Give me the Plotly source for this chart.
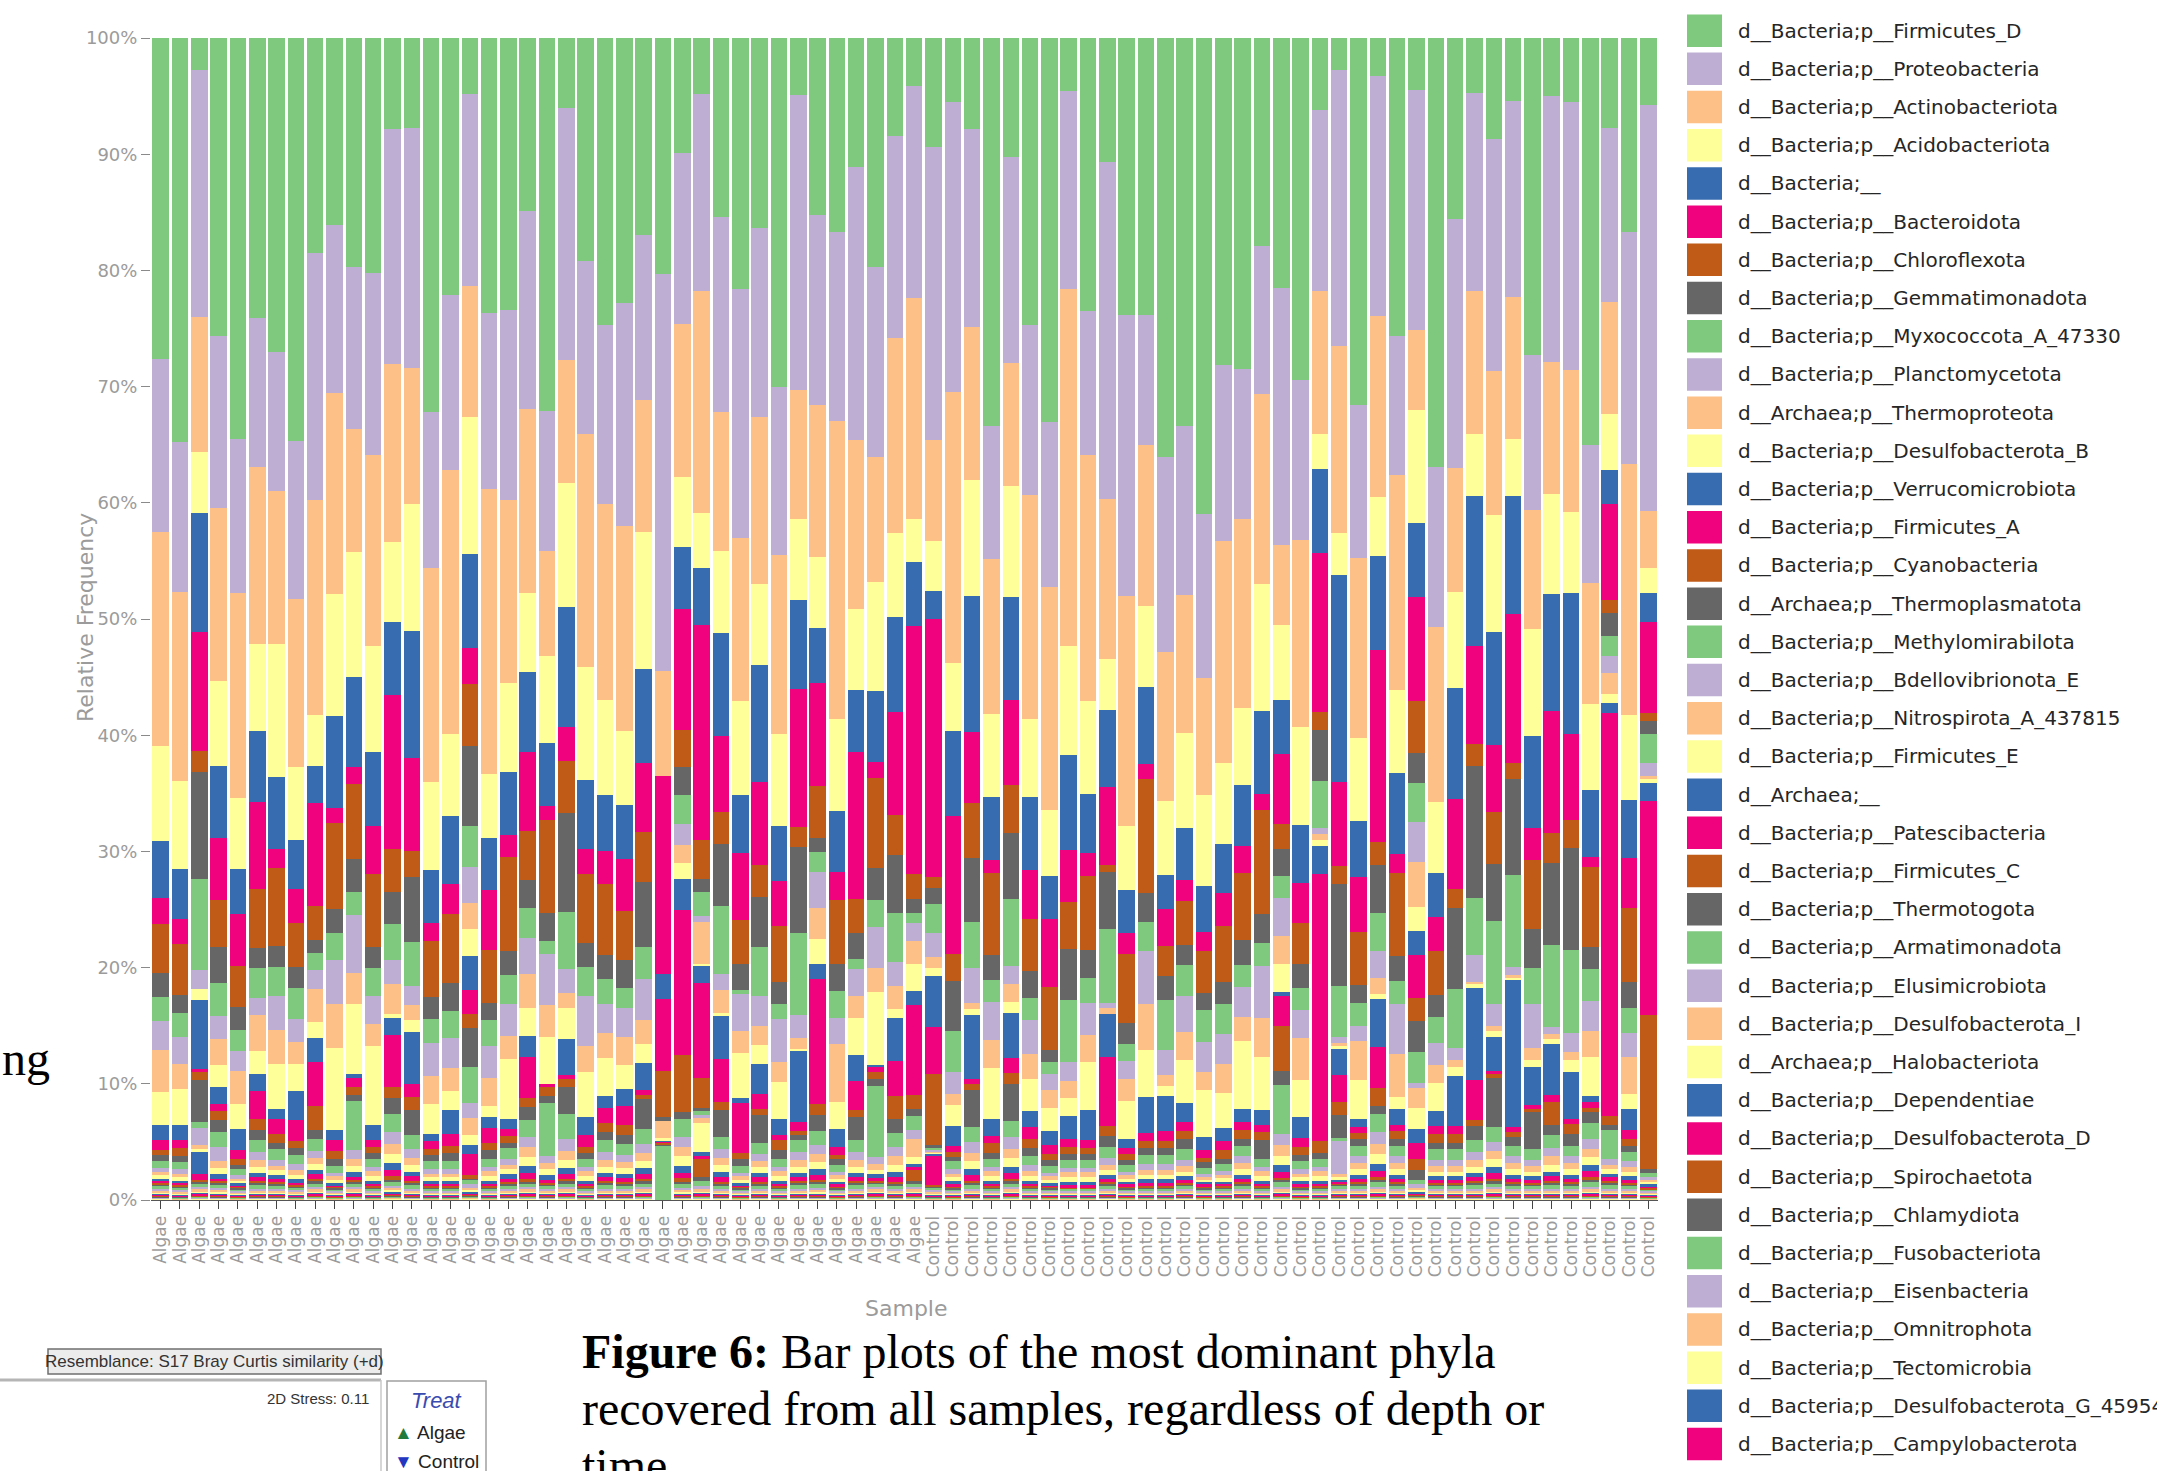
import plotly.graph_objects as go

# ---------------------------------------------------------------- data
treatment = ["Algae"] * 40 + ["Control"] * 38
sample_pos = list(range(len(treatment)))

y_ticks = [0, 10, 20, 30, 40, 50, 60, 70, 80, 90, 100]
y_tick_labels = ["0%", "10%", "20%", "30%", "40%", "50%", "60%", "70%", "80%", "90%", "100%"]

taxa = [
    "d__Bacteria;p__Firmicutes_D",
    "d__Bacteria;p__Proteobacteria",
    "d__Bacteria;p__Actinobacteriota",
    "d__Bacteria;p__Acidobacteriota",
    "d__Bacteria;__",
    "d__Bacteria;p__Bacteroidota",
    "d__Bacteria;p__Chloroflexota",
    "d__Bacteria;p__Gemmatimonadota",
    "d__Bacteria;p__Myxococcota_A_47330",
    "d__Bacteria;p__Planctomycetota",
    "d__Archaea;p__Thermoproteota",
    "d__Bacteria;p__Desulfobacterota_B",
    "d__Bacteria;p__Verrucomicrobiota",
    "d__Bacteria;p__Firmicutes_A",
    "d__Bacteria;p__Cyanobacteria",
    "d__Archaea;p__Thermoplasmatota",
    "d__Bacteria;p__Methylomirabilota",
    "d__Bacteria;p__Bdellovibrionota_E",
    "d__Bacteria;p__Nitrospirota_A_437815",
    "d__Bacteria;p__Firmicutes_E",
    "d__Archaea;__",
    "d__Bacteria;p__Patescibacteria",
    "d__Bacteria;p__Firmicutes_C",
    "d__Bacteria;p__Thermotogota",
    "d__Bacteria;p__Armatimonadota",
    "d__Bacteria;p__Elusimicrobiota",
    "d__Bacteria;p__Desulfobacterota_I",
    "d__Archaea;p__Halobacteriota",
    "d__Bacteria;p__Dependentiae",
    "d__Bacteria;p__Desulfobacterota_D",
    "d__Bacteria;p__Spirochaetota",
    "d__Bacteria;p__Chlamydiota",
    "d__Bacteria;p__Fusobacteriota",
    "d__Bacteria;p__Eisenbacteria",
    "d__Bacteria;p__Omnitrophota",
    "d__Bacteria;p__Tectomicrobia",
    "d__Bacteria;p__Desulfobacterota_G_459543",
    "d__Bacteria;p__Campylobacterota",
]

# relative abundance (%) per sample, one list per phylum
firmicutes_d = [27.7, 34.8, 2.8, 25.7, 34.5, 24.1, 27.0, 34.7, 18.5, 16.1,
                19.7, 20.2, 7.8, 7.7, 32.2, 22.1, 4.8, 23.7, 23.4, 14.9,
                32.1, 6.0, 19.2, 24.7, 22.8, 17.0, 20.3, 9.9, 4.8, 15.4,
                21.6, 16.4, 30.0, 4.9, 15.2, 16.7, 11.1, 19.7, 8.4, 4.1,
                9.4, 5.5, 7.8, 33.4, 10.2, 24.7, 33.0, 4.6, 23.5, 10.7,
                23.8, 23.8, 36.0, 33.4, 41.0, 28.1, 28.5, 17.9, 21.5, 29.4,
                6.2, 2.8, 31.6, 3.3, 25.7, 4.5, 36.9, 15.6, 4.7, 8.7,
                5.4, 27.3, 5.0, 5.5, 35.1, 7.7, 16.7, 5.8]
proteobacteria = [14.9, 12.9, 21.3, 14.8, 13.3, 12.8, 12.0, 13.6, 21.3, 14.4,
                  14.0, 15.7, 20.3, 20.7, 13.4, 15.1, 16.6, 15.1, 16.4, 17.0,
                  12.0, 21.7, 14.9, 15.4, 19.2, 14.2, 34.1, 14.7, 17.0, 16.8,
                  21.4, 16.2, 14.5, 25.4, 16.4, 16.2, 23.5, 16.4, 17.4, 18.3,
                  25.2, 25.0, 17.1, 11.4, 17.8, 14.6, 14.2, 17.0, 12.4, 29.0,
                  24.2, 11.2, 16.8, 14.6, 14.1, 15.2, 12.9, 12.7, 22.2, 13.8,
                  15.6, 23.8, 13.2, 20.6, 11.9, 20.7, 13.8, 21.4, 17.1, 20.0,
                  16.9, 13.3, 22.9, 23.1, 11.9, 15.0, 20.0, 34.9]
actinobacteriota = [18.5, 16.3, 11.6, 14.9, 17.6, 15.2, 13.2, 14.4, 18.5, 17.3,
                    10.6, 16.4, 15.3, 11.7, 18.4, 22.7, 11.3, 24.5, 15.7, 15.9,
                    9.1, 10.6, 20.0, 16.8, 17.6, 11.4, 9.0, 13.2, 19.1, 11.9,
                    14.0, 14.4, 15.4, 11.1, 13.1, 25.7, 14.5, 10.8, 16.8, 19.0,
                    8.7, 23.3, 13.1, 13.4, 10.6, 19.2, 19.2, 30.7, 21.1, 13.8,
                    19.8, 13.8, 12.8, 11.8, 10.1, 19.1, 16.3, 16.4, 6.9, 16.1,
                    12.3, 16.1, 15.5, 15.6, 18.5, 6.9, 15.1, 10.7, 12.3, 12.4,
                    12.2, 10.3, 11.3, 12.2, 10.4, 9.6, 21.6, 4.9]
acidobacteriota = [8.2, 7.6, 5.3, 7.3, 6.1, 7.5, 11.4, 6.3, 4.4, 10.5,
                   10.8, 9.1, 6.9, 10.9, 7.6, 7.0, 11.8, 5.5, 7.7, 6.8,
                   7.4, 10.7, 9.7, 8.2, 6.4, 11.8, 0.0, 6.0, 4.7, 7.1,
                   8.1, 7.0, 7.9, 6.9, 6.1, 7.9, 7.0, 9.4, 7.2, 3.7,
                   4.3, 5.9, 10.0, 7.1, 9.5, 6.7, 5.7, 9.4, 8.0, 4.4,
                   5.5, 7.0, 6.3, 8.2, 7.8, 6.9, 6.6, 10.9, 6.4, 8.4,
                   3.0, 3.6, 7.1, 5.0, 7.2, 9.7, 6.1, 8.3, 5.3, 10.1,
                   4.9, 9.2, 8.6, 7.0, 7.4, 4.9, 7.3, 2.2]
bacteria_unclassified = [4.9, 4.3, 10.2, 6.2, 3.9, 6.1, 6.2, 4.2, 3.2, 7.9,
                         7.7, 6.4, 6.3, 10.9, 4.5, 5.9, 8.1, 4.5, 5.4, 6.9,
                         5.5, 10.3, 6.0, 4.8, 4.6, 8.1, 0.0, 5.3, 4.9, 8.8,
                         5.0, 10.1, 4.7, 7.7, 4.7, 5.2, 5.3, 6.1, 8.2, 5.5,
                         2.4, 7.3, 11.7, 5.4, 8.9, 6.3, 3.7, 8.2, 5.1, 6.6,
                         3.7, 6.6, 3.0, 4.5, 4.0, 4.3, 5.3, 7.1, 4.7, 5.0,
                         7.2, 17.9, 4.8, 8.1, 7.0, 6.4, 3.8, 9.5, 12.9, 9.7,
                         10.2, 7.9, 10.1, 12.1, 5.8, 2.9, 5.0, 2.5]
bacteroidota = [2.2, 2.1, 10.3, 5.3, 4.5, 7.5, 1.7, 2.9, 8.9, 1.3,
                1.5, 4.1, 13.3, 8.0, 1.6, 2.6, 3.1, 5.2, 1.9, 6.8,
                1.2, 2.9, 2.1, 2.9, 4.5, 5.9, 17.0, 10.4, 18.5, 6.6,
                5.8, 7.1, 3.9, 11.9, 8.9, 2.4, 12.7, 1.4, 8.8, 21.4,
                22.2, 11.9, 6.1, 1.1, 7.3, 4.2, 5.8, 4.4, 2.0, 6.7,
                1.8, 1.3, 3.1, 1.8, 1.6, 2.8, 2.3, 1.4, 6.0, 3.4,
                13.7, 7.2, 4.8, 16.5, 1.6, 8.9, 2.9, 7.8, 8.4, 5.8,
                12.8, 2.8, 10.5, 7.4, 0.8, 8.2, 4.3, 7.8]
chloroflexota = [4.3, 4.4, 1.8, 4.1, 3.5, 5.1, 6.7, 3.8, 2.9, 7.4,
                 6.4, 6.3, 3.7, 2.3, 4.8, 5.9, 5.4, 4.5, 8.1, 4.2,
                 8.0, 4.5, 6.0, 6.1, 4.2, 4.3, 0.0, 3.2, 3.4, 2.7,
                 3.7, 2.8, 4.8, 1.7, 4.5, 5.5, 2.9, 7.7, 3.5, 2.1,
                 0.9, 2.3, 4.7, 7.1, 4.1, 4.5, 5.4, 4.1, 6.4, 0.6,
                 5.9, 9.8, 2.6, 3.8, 3.6, 4.8, 5.8, 9.0, 2.2, 3.5,
                 1.5, 1.6, 4.5, 2.0, 7.1, 4.5, 3.8, 1.6, 1.9, 4.5,
                 1.4, 5.9, 2.6, 2.4, 6.9, 1.2, 6.4, 0.7]
gemmatimonadota = [2.0, 1.6, 9.2, 3.1, 2.0, 1.7, 1.8, 1.8, 1.1, 2.1,
                   2.9, 1.8, 2.8, 5.6, 1.9, 2.4, 6.9, 1.5, 2.1, 2.4,
                   2.4, 8.5, 2.0, 2.0, 2.4, 5.6, 0.0, 2.4, 1.1, 5.4,
                   2.3, 4.3, 1.9, 7.4, 1.2, 2.4, 2.2, 2.8, 5.0, 1.2,
                   1.4, 4.3, 5.5, 2.1, 5.7, 2.3, 1.1, 4.4, 2.4, 4.9,
                   1.8, 2.5, 2.1, 1.7, 1.5, 1.9, 2.1, 2.5, 2.3, 2.1,
                   4.4, 8.8, 1.6, 4.1, 2.2, 2.6, 1.9, 7.0, 11.4, 4.9,
                   8.3, 3.4, 7.0, 8.8, 1.9, 1.9, 2.2, 1.1]
myxococcota = [2.1, 2.0, 7.9, 2.8, 1.8, 2.6, 2.5, 2.7, 1.5, 2.3,
               2.0, 2.4, 3.1, 3.7, 2.1, 2.3, 3.5, 2.2, 2.5, 2.6,
               1.1, 4.9, 2.5, 2.2, 1.7, 2.8, 0.0, 2.5, 2.1, 5.8,
               0.3, 4.2, 1.3, 7.0, 1.7, 2.3, 0.9, 2.3, 4.2, 0.9,
               2.5, 3.5, 4.0, 1.9, 5.8, 1.9, 1.0, 5.3, 2.1, 6.4,
               1.5, 2.5, 4.3, 2.7, 2.7, 2.6, 1.9, 1.9, 1.9, 1.9,
               4.1, 4.4, 2.0, 3.3, 2.0, 3.4, 2.2, 5.1, 4.9, 7.1,
               7.9, 3.1, 7.1, 7.2, 2.8, 1.8, 2.2, 2.5]
planctomycetota = [2.5, 2.4, 1.6, 2.0, 1.7, 1.4, 2.9, 2.0, 1.6, 3.8,
                   5.0, 2.4, 2.0, 1.7, 2.8, 2.6, 3.1, 2.8, 2.7, 3.1,
                   4.4, 2.1, 4.3, 2.5, 2.5, 3.5, 0.0, 1.8, 0.5, 1.4,
                   3.2, 2.6, 3.7, 2.0, 3.1, 2.2, 2.3, 3.5, 2.0, 1.5,
                   2.1, 1.9, 3.0, 3.3, 1.5, 2.9, 1.4, 1.6, 2.8, 0.4,
                   1.5, 4.5, 2.1, 3.1, 2.6, 2.6, 2.6, 4.5, 3.3, 2.4,
                   0.5, 0.5, 1.3, 2.3, 4.3, 3.4, 1.9, 1.0, 2.3, 1.9,
                   0.7, 3.8, 0.6, 1.6, 2.6, 1.4, 2.0, 1.1]
thermoproteota = [3.6, 2.1, 0.0, 2.2, 2.9, 3.1, 2.9, 1.9, 2.9, 3.8,
                  2.6, 1.9, 2.6, 1.3, 2.4, 2.0, 2.3, 2.4, 2.0, 2.9,
                  2.7, 1.3, 2.3, 2.1, 2.4, 2.1, 0.0, 1.6, 3.6, 2.0,
                  1.9, 1.6, 1.7, 1.0, 2.7, 5.0, 1.9, 2.1, 2.0, 2.0,
                  0.9, 1.0, 0.5, 2.4, 1.6, 2.2, 1.5, 1.5, 2.3, 0.5,
                  1.9, 4.0, 1.0, 2.4, 1.6, 2.5, 2.1, 3.4, 2.4, 3.6,
                  0.5, 0.3, 3.3, 1.4, 3.7, 3.9, 1.6, 0.6, 0.2, 0.5,
                  0.2, 1.0, 0.4, 0.7, 2.2, 1.8, 3.2, 0.3]
desulfobacterota_b = [2.9, 3.1, 1.0, 1.9, 2.1, 2.0, 3.9, 2.3, 1.4, 7.0,
                      6.1, 6.8, 0.4, 1.0, 2.6, 1.6, 2.3, 0.9, 5.2, 2.4,
                      4.1, 2.7, 3.8, 3.3, 2.1, 1.6, 0.0, 1.3, 0.2, 0.2,
                      3.9, 1.6, 3.2, 0.1, 2.1, 2.3, 3.2, 6.3, 0.8, 2.3,
                      0.7, 1.8, 0.5, 4.4, 0.9, 2.7, 2.0, 1.5, 4.1, 0.0,
                      3.3, 4.0, 0.8, 3.7, 4.0, 3.0, 5.8, 4.5, 2.4, 3.2,
                      0.5, 0.2, 3.4, 0.4, 1.0, 2.1, 2.4, 0.8, 0.3, 0.5,
                      0.2, 0.6, 0.4, 1.0, 3.4, 0.8, 1.3, 0.3]
verrucomicrobiota = [1.3, 1.3, 5.9, 1.5, 1.8, 1.5, 0.9, 2.5, 2.0, 0.9,
                     0.3, 1.3, 1.4, 4.5, 0.6, 2.1, 2.9, 1.0, 0.8, 1.8,
                     0.0, 3.1, 1.6, 1.0, 1.5, 2.3, 2.1, 2.7, 1.4, 3.7,
                     0.4, 2.6, 1.4, 6.1, 1.3, 1.6, 2.2, 0.2, 3.7, 1.2,
                     4.4, 1.7, 5.5, 1.5, 3.9, 1.4, 1.2, 2.0, 2.6, 3.7,
                     0.8, 3.1, 3.0, 1.6, 1.1, 1.1, 1.1, 1.3, 0.3, 1.8,
                     2.4, 2.3, 0.7, 4.2, 1.4, 2.0, 1.3, 4.3, 7.9, 2.9,
                     12.7, 3.3, 4.4, 4.1, 0.5, 0.9, 1.8, 1.6]
firmicutes_a = [0.8, 0.7, 0.3, 0.6, 0.8, 2.4, 1.3, 1.8, 3.8, 0.9,
                0.8, 0.6, 4.5, 1.1, 0.7, 1.0, 2.1, 1.3, 0.6, 3.5,
                0.2, 0.3, 1.0, 1.3, 1.6, 0.5, 6.2, 12.5, 8.2, 3.7,
                4.3, 1.3, 0.4, 0.8, 10.8, 0.7, 2.5, 0.4, 3.0, 7.8,
                4.0, 0.5, 0.5, 0.6, 1.3, 1.0, 0.8, 0.7, 0.7, 6.0,
                0.5, 0.7, 0.9, 0.8, 0.7, 0.8, 0.7, 0.6, 2.6, 0.8,
                23.0, 2.3, 0.5, 3.5, 0.5, 3.7, 0.7, 0.7, 3.5, 0.3,
                0.4, 0.3, 0.6, 0.4, 0.5, 34.6, 0.8, 18.4]
cyanobacteria = [0.5, 0.7, 0.7, 0.8, 0.5, 0.9, 0.7, 0.6, 2.1, 0.7,
                 0.7, 0.5, 1.0, 1.1, 0.5, 0.6, 1.2, 0.6, 0.6, 0.8,
                 0.8, 0.7, 0.5, 0.8, 0.9, 0.3, 4.0, 4.9, 2.6, 0.7,
                 0.5, 0.5, 0.9, 0.4, 0.9, 0.3, 0.6, 0.6, 2.0, 1.2,
                 6.1, 0.4, 0.5, 0.8, 0.9, 0.8, 0.5, 0.6, 0.5, 0.8,
                 0.5, 0.6, 0.6, 0.7, 0.4, 0.7, 0.8, 0.7, 3.9, 0.7,
                 1.0, 1.1, 0.5, 1.5, 0.7, 2.0, 0.7, 0.7, 0.5, 0.3,
                 0.4, 0.3, 2.0, 0.9, 0.3, 0.8, 0.6, 13.3]
thermoplasmatota = [0.5, 0.5, 3.6, 1.0, 0.4, 0.9, 0.6, 0.6, 0.8, 0.6,
                    0.5, 0.5, 1.3, 2.2, 0.5, 0.7, 3.4, 0.7, 0.5, 1.1,
                    0.6, 2.3, 0.5, 0.7, 0.7, 2.6, 0.3, 0.6, 0.3, 2.3,
                    0.6, 2.4, 0.7, 0.4, 1.4, 0.5, 2.0, 0.6, 1.2, 0.6,
                    0.3, 0.4, 3.2, 0.5, 3.2, 0.7, 0.5, 0.5, 0.5, 1.0,
                    0.4, 0.6, 0.6, 0.9, 0.5, 0.5, 0.6, 1.6, 1.2, 0.5,
                    0.5, 2.0, 0.6, 0.7, 0.6, 2.7, 0.6, 0.6, 1.2, 4.2,
                    0.8, 3.2, 0.9, 1.0, 1.0, 0.4, 0.5, 0.3]
methylomirabilota = [0.6, 0.6, 0.5, 1.3, 0.5, 1.0, 0.9, 0.8, 1.0, 0.6,
                     4.2, 0.7, 1.6, 1.2, 0.7, 0.7, 3.1, 0.7, 0.9, 1.5,
                     4.6, 2.2, 0.7, 1.0, 1.0, 1.3, 0.0, 1.5, 0.3, 1.1,
                     0.6, 1.0, 0.7, 1.0, 1.2, 0.6, 1.0, 6.1, 1.2, 1.2,
                     0.2, 0.7, 1.3, 0.7, 1.4, 0.8, 0.6, 0.7, 0.7, 0.9,
                     0.6, 0.8, 0.8, 0.9, 0.5, 0.6, 0.9, 0.7, 4.2, 0.7,
                     0.7, 0.3, 0.9, 1.6, 0.9, 2.7, 0.9, 0.9, 1.0, 1.3,
                     0.9, 0.9, 1.1, 0.9, 1.4, 2.5, 0.8, 0.4]
bdellovibrionota_e = [0.3, 0.4, 1.5, 1.2, 0.3, 0.7, 0.5, 0.5, 0.6, 0.3,
                      0.8, 0.4, 1.0, 0.7, 0.4, 0.4, 1.3, 0.4, 0.5, 0.9,
                      0.6, 1.0, 0.4, 0.7, 0.6, 0.8, 0.0, 0.9, 0.3, 0.7,
                      0.3, 0.6, 0.4, 0.7, 0.8, 0.3, 0.7, 0.6, 0.8, 0.8,
                      0.1, 0.4, 0.9, 0.4, 1.0, 0.5, 0.3, 0.4, 0.4, 0.6,
                      0.3, 0.5, 0.5, 0.5, 0.3, 0.3, 0.6, 0.4, 1.0, 0.4,
                      0.4, 2.8, 0.6, 1.0, 0.6, 0.4, 0.5, 0.5, 0.7, 0.8,
                      0.6, 0.5, 0.7, 0.6, 0.8, 0.5, 0.5, 0.2]
nitrospirota_a = [0.3, 0.3, 0.3, 0.6, 0.2, 0.6, 0.4, 0.4, 0.5, 0.3,
                  0.6, 0.4, 0.9, 0.6, 0.3, 0.3, 1.4, 0.4, 0.4, 0.8,
                  0.5, 0.8, 0.4, 0.6, 0.5, 0.7, 1.5, 0.8, 0.4, 0.6,
                  0.3, 0.5, 0.4, 0.6, 0.7, 0.3, 0.6, 0.5, 0.7, 1.5,
                  0.1, 0.3, 0.7, 0.4, 0.8, 0.4, 0.3, 0.4, 0.4, 0.5,
                  0.3, 0.4, 0.4, 0.5, 0.2, 0.3, 0.5, 0.4, 0.9, 0.3,
                  0.4, 0.3, 0.5, 0.9, 0.5, 1.7, 0.5, 0.5, 0.6, 0.7,
                  0.5, 0.5, 0.7, 0.5, 0.7, 0.4, 0.4, 0.2]
firmicutes_e = [0.3, 0.3, 0.3, 0.5, 0.2, 0.5, 0.4, 0.4, 0.5, 0.3,
                0.5, 0.4, 0.8, 0.6, 0.3, 0.3, 0.9, 0.4, 0.4, 0.8,
                0.5, 0.7, 0.4, 0.5, 0.5, 0.6, 0.2, 0.8, 2.5, 0.6,
                0.3, 0.5, 0.4, 0.5, 0.6, 0.3, 0.5, 0.4, 0.6, 0.6,
                0.1, 0.3, 0.7, 0.4, 0.8, 0.4, 0.3, 0.4, 0.4, 0.4,
                0.3, 0.4, 0.4, 0.4, 0.2, 0.3, 0.5, 0.4, 0.8, 0.3,
                0.4, 0.2, 0.5, 0.8, 0.5, 1.8, 0.4, 0.4, 0.5, 0.7,
                0.5, 0.4, 0.6, 0.5, 0.7, 0.4, 0.4, 0.2]
archaea_unclassified = [0.2, 0.2, 1.9, 0.4, 0.2, 0.4, 0.3, 0.3, 0.4, 0.2,
                        0.4, 0.3, 0.6, 0.4, 0.3, 0.3, 0.8, 0.3, 0.4, 0.6,
                        0.4, 0.5, 0.3, 0.4, 0.4, 0.5, 0.1, 0.6, 0.3, 0.5,
                        0.2, 0.4, 0.3, 0.4, 0.5, 0.2, 0.4, 0.3, 0.5, 0.3,
                        0.1, 0.3, 0.5, 0.3, 0.5, 0.3, 0.2, 0.3, 0.3, 0.3,
                        0.2, 0.3, 0.3, 0.3, 0.2, 0.2, 0.3, 0.3, 0.6, 0.3,
                        0.3, 0.2, 0.3, 0.6, 0.3, 1.2, 0.3, 0.3, 0.4, 0.5,
                        0.3, 0.3, 0.4, 0.3, 0.5, 0.3, 0.3, 0.2]
patescibacteria = [0.2, 0.2, 0.5, 0.2, 0.1, 0.3, 0.3, 0.2, 0.4, 0.1,
                   0.3, 0.2, 0.5, 0.4, 0.2, 0.2, 1.8, 0.2, 0.3, 0.5,
                   0.3, 0.4, 0.2, 0.3, 0.3, 0.4, 0.1, 0.5, 0.3, 0.4,
                   0.1, 0.4, 0.2, 0.3, 0.4, 0.2, 0.3, 0.3, 0.4, 0.2,
                   2.6, 0.2, 0.5, 0.2, 0.5, 0.2, 0.1, 0.2, 0.2, 0.3,
                   0.2, 0.3, 0.3, 0.3, 0.2, 0.2, 0.3, 0.2, 0.5, 0.2,
                   0.2, 0.1, 0.3, 0.5, 0.3, 1.4, 0.3, 0.3, 0.3, 0.5,
                   0.3, 0.3, 0.4, 0.3, 0.5, 0.3, 0.3, 0.1]
firmicutes_c = [0.1, 0.1, 0.2, 0.2, 0.1, 0.2, 0.2, 0.1, 0.2, 0.1,
                0.2, 0.1, 0.3, 0.2, 0.1, 0.1, 0.3, 0.1, 0.2, 0.3,
                0.1, 0.2, 0.1, 0.2, 0.2, 0.2, 0.1, 0.3, 1.5, 0.2,
                0.1, 0.2, 0.1, 0.2, 0.2, 0.1, 0.2, 0.1, 0.2, 1.0,
                0.1, 0.1, 0.2, 0.1, 0.2, 0.1, 0.1, 0.1, 0.1, 0.2,
                0.1, 0.1, 0.1, 0.1, 0.1, 0.1, 0.2, 0.1, 0.2, 0.1,
                0.1, 0.1, 0.2, 0.3, 0.2, 1.0, 0.1, 0.1, 0.2, 0.2,
                0.2, 0.1, 0.2, 0.2, 0.3, 0.2, 0.1, 0.1]
thermotogota = [0.1, 0.1, 0.1, 0.1, 0.1, 0.2, 0.1, 0.1, 0.2, 0.1,
                0.1, 0.1, 0.2, 0.2, 0.1, 0.1, 0.1, 0.1, 0.1, 0.1,
                0.1, 0.2, 0.1, 0.2, 0.1, 0.2, 0.1, 0.2, 0.4, 0.1,
                0.1, 0.1, 0.1, 0.2, 0.2, 0.1, 0.2, 0.1, 0.1, 0.2,
                0.1, 0.1, 0.2, 0.1, 0.2, 0.1, 0.1, 0.0, 0.0, 0.1,
                0.1, 0.1, 0.1, 0.1, 0.1, 0.1, 0.1, 0.1, 0.2, 0.1,
                0.1, 0.1, 0.1, 0.2, 0.1, 0.8, 0.1, 0.1, 0.2, 0.2,
                0.1, 0.1, 0.2, 0.1, 0.2, 0.2, 0.1, 0.0]
armatimonadota = [0.3, 0.2, 0.3, 0.3, 0.2, 0.3, 0.3, 0.2, 0.3, 0.2,
                  0.3, 0.2, 0.3, 0.3, 0.2, 0.2, 0.4, 0.2, 0.3, 0.3,
                  0.3, 0.3, 0.2, 0.3, 0.3, 0.3, 4.7, 0.3, 0.4, 0.3,
                  0.2, 0.3, 0.2, 0.3, 0.3, 0.2, 0.3, 0.3, 0.3, 0.3,
                  0.2, 0.2, 0.3, 0.2, 0.3, 0.2, 0.2, 0.2, 0.2, 0.3,
                  0.2, 0.2, 0.2, 0.3, 0.2, 0.2, 0.3, 0.2, 0.4, 0.2,
                  0.2, 0.3, 0.3, 0.4, 0.3, 0.4, 0.3, 0.3, 0.3, 0.3,
                  0.3, 0.3, 0.3, 0.3, 0.4, 0.3, 0.3, 0.2]
elusimicrobiota = [0.2, 0.2, 0.2, 0.2, 0.1, 0.2, 0.2, 0.2, 0.2, 0.1,
                   0.2, 0.1, 0.2, 0.2, 0.1, 0.1, 0.3, 0.1, 0.2, 0.2,
                   0.2, 0.2, 0.1, 0.2, 0.2, 0.2, 0.0, 0.2, 0.3, 0.2,
                   0.1, 0.2, 0.1, 0.2, 0.2, 0.1, 0.2, 0.2, 0.2, 0.2,
                   0.2, 0.1, 0.2, 0.1, 0.2, 0.1, 0.1, 0.1, 0.1, 0.2,
                   0.1, 0.1, 0.1, 0.2, 0.1, 0.1, 0.2, 0.1, 0.2, 0.1,
                   0.1, 0.2, 0.2, 0.2, 0.2, 0.3, 0.2, 0.2, 0.2, 0.2,
                   0.2, 0.2, 0.2, 0.2, 0.2, 0.2, 0.2, 0.1]
desulfobacterota_i = [0.1, 0.1, 0.2, 0.2, 0.1, 0.1, 0.1, 0.1, 0.2, 0.1,
                      0.2, 0.1, 0.2, 0.1, 0.1, 0.1, 0.2, 0.1, 0.1, 0.2,
                      0.1, 0.2, 0.1, 0.1, 0.1, 0.2, 0.0, 0.2, 0.2, 0.1,
                      0.1, 0.1, 0.1, 0.1, 0.2, 0.1, 0.1, 0.2, 0.1, 0.2,
                      0.1, 0.1, 0.1, 0.1, 0.2, 0.1, 0.1, 0.1, 0.1, 0.1,
                      0.1, 0.1, 0.1, 0.1, 0.1, 0.1, 0.1, 0.1, 0.2, 0.1,
                      0.1, 0.1, 0.1, 0.2, 0.1, 0.2, 0.1, 0.1, 0.1, 0.2,
                      0.1, 0.1, 0.1, 0.1, 0.2, 0.1, 0.1, 0.1]
halobacteriota = [0.1, 0.1, 0.1, 0.1, 0.1, 0.1, 0.1, 0.1, 0.1, 0.1,
                  0.1, 0.1, 0.2, 0.1, 0.1, 0.1, 0.2, 0.1, 0.1, 0.1,
                  0.1, 0.1, 0.1, 0.1, 0.1, 0.1, 0.0, 0.1, 0.1, 0.1,
                  0.1, 0.1, 0.1, 0.1, 0.1, 0.1, 0.1, 0.1, 0.1, 0.1,
                  0.1, 0.1, 0.1, 0.1, 0.1, 0.1, 0.1, 0.1, 0.1, 0.1,
                  0.1, 0.1, 0.1, 0.1, 0.1, 0.1, 0.1, 0.1, 0.1, 0.1,
                  0.1, 0.1, 0.1, 0.1, 0.1, 0.2, 0.1, 0.1, 0.1, 0.1,
                  0.1, 0.1, 0.1, 0.1, 0.1, 0.1, 0.1, 0.1]
dependentiae = [0.1, 0.08, 0.1, 0.1, 0.08, 0.1, 0.1, 0.08, 0.1, 0.08,
                0.1, 0.08, 0.1, 0.1, 0.08, 0.08, 0.1, 0.08, 0.1, 0.1,
                0.1, 0.1, 0.08, 0.1, 0.1, 0.1, 0.0, 0.1, 0.1, 0.1,
                0.08, 0.1, 0.08, 0.1, 0.1, 0.08, 0.1, 0.1, 0.1, 0.1,
                0.08, 0.08, 0.1, 0.08, 0.1, 0.08, 0.08, 0.08, 0.08, 0.1,
                0.08, 0.08, 0.08, 0.1, 0.08, 0.08, 0.1, 0.08, 0.1, 0.08,
                0.08, 0.1, 0.1, 0.1, 0.1, 0.1, 0.1, 0.1, 0.1, 0.1,
                0.1, 0.1, 0.1, 0.1, 0.1, 0.1, 0.1, 0.08]
desulfobacterota_d = [0.08, 0.07, 0.1, 0.08, 0.07, 0.08, 0.08, 0.07, 0.1, 0.07,
                      0.1, 0.07, 0.1, 0.08, 0.07, 0.07, 0.1, 0.07, 0.08, 0.1,
                      0.08, 0.1, 0.07, 0.08, 0.08, 0.1, 0.0, 0.08, 0.1, 0.08,
                      0.07, 0.08, 0.07, 0.08, 0.08, 0.07, 0.08, 0.1, 0.08, 0.1,
                      0.07, 0.07, 0.08, 0.07, 0.1, 0.07, 0.07, 0.07, 0.07, 0.08,
                      0.07, 0.07, 0.07, 0.08, 0.07, 0.07, 0.08, 0.07, 0.1, 0.07,
                      0.07, 0.08, 0.08, 0.1, 0.08, 0.1, 0.08, 0.08, 0.08, 0.1,
                      0.08, 0.08, 0.08, 0.08, 0.1, 0.08, 0.08, 0.07]
spirochaetota = [0.07, 0.06, 0.08, 0.07, 0.06, 0.07, 0.07, 0.06, 0.08, 0.06,
                 0.08, 0.06, 0.08, 0.07, 0.06, 0.06, 0.08, 0.06, 0.07, 0.08,
                 0.07, 0.08, 0.06, 0.07, 0.07, 0.08, 0.0, 0.07, 0.08, 0.07,
                 0.06, 0.07, 0.06, 0.07, 0.07, 0.06, 0.07, 0.08, 0.07, 0.08,
                 0.06, 0.06, 0.07, 0.06, 0.08, 0.06, 0.06, 0.06, 0.06, 0.07,
                 0.06, 0.06, 0.06, 0.07, 0.06, 0.06, 0.07, 0.06, 0.08, 0.06,
                 0.06, 0.07, 0.07, 0.08, 0.07, 0.08, 0.07, 0.07, 0.07, 0.08,
                 0.07, 0.07, 0.07, 0.07, 0.08, 0.07, 0.07, 0.06]
chlamydiota = [0.06, 0.05, 0.07, 0.06, 0.05, 0.06, 0.06, 0.05, 0.07, 0.05,
               0.07, 0.05, 0.07, 0.06, 0.05, 0.05, 0.07, 0.05, 0.06, 0.07,
               0.06, 0.07, 0.05, 0.06, 0.06, 0.07, 0.0, 0.06, 0.07, 0.06,
               0.05, 0.06, 0.05, 0.06, 0.06, 0.05, 0.06, 0.07, 0.06, 0.07,
               0.05, 0.05, 0.06, 0.05, 0.07, 0.05, 0.05, 0.05, 0.05, 0.06,
               0.05, 0.05, 0.05, 0.06, 0.05, 0.05, 0.06, 0.05, 0.07, 0.05,
               0.05, 0.06, 0.06, 0.07, 0.06, 0.07, 0.06, 0.06, 0.06, 0.07,
               0.06, 0.06, 0.06, 0.06, 0.07, 0.06, 0.06, 0.05]
fusobacteriota = [0.05, 0.05, 0.06, 0.05, 0.04, 0.05, 0.05, 0.05, 0.06, 0.04,
                  0.06, 0.05, 0.06, 0.05, 0.05, 0.05, 0.06, 0.05, 0.05, 0.06,
                  0.05, 0.06, 0.05, 0.05, 0.05, 0.06, 0.0, 0.05, 0.06, 0.05,
                  0.04, 0.05, 0.05, 0.05, 0.05, 0.04, 0.05, 0.06, 0.05, 0.06,
                  0.05, 0.04, 0.05, 0.05, 0.06, 0.05, 0.04, 0.05, 0.05, 0.05,
                  0.04, 0.05, 0.05, 0.05, 0.04, 0.05, 0.05, 0.05, 0.06, 0.04,
                  0.05, 0.05, 0.05, 0.06, 0.05, 0.06, 0.05, 0.05, 0.05, 0.06,
                  0.05, 0.05, 0.05, 0.05, 0.06, 0.05, 0.05, 0.04]
eisenbacteria = [0.05, 0.04, 0.05, 0.05, 0.04, 0.05, 0.05, 0.04, 0.05, 0.04,
                 0.05, 0.04, 0.06, 0.05, 0.04, 0.04, 0.06, 0.04, 0.05, 0.05,
                 0.05, 0.05, 0.04, 0.05, 0.05, 0.05, 0.0, 0.05, 0.05, 0.05,
                 0.04, 0.05, 0.04, 0.05, 0.05, 0.04, 0.05, 0.05, 0.05, 0.05,
                 0.04, 0.04, 0.05, 0.04, 0.05, 0.04, 0.04, 0.04, 0.04, 0.05,
                 0.04, 0.04, 0.04, 0.05, 0.04, 0.04, 0.05, 0.04, 0.05, 0.04,
                 0.04, 0.05, 0.05, 0.05, 0.05, 0.06, 0.05, 0.05, 0.05, 0.05,
                 0.05, 0.05, 0.05, 0.05, 0.05, 0.05, 0.05, 0.04]
omnitrophota = [0.04, 0.04, 0.05, 0.04, 0.03, 0.04, 0.04, 0.04, 0.05, 0.03,
                0.05, 0.04, 0.05, 0.04, 0.04, 0.04, 0.05, 0.04, 0.04, 0.05,
                0.04, 0.05, 0.04, 0.04, 0.04, 0.05, 0.0, 0.04, 0.05, 0.04,
                0.03, 0.04, 0.04, 0.04, 0.04, 0.03, 0.04, 0.05, 0.04, 0.05,
                0.04, 0.03, 0.04, 0.04, 0.05, 0.04, 0.03, 0.04, 0.04, 0.04,
                0.03, 0.04, 0.04, 0.04, 0.03, 0.04, 0.04, 0.04, 0.05, 0.03,
                0.04, 0.04, 0.04, 0.05, 0.04, 0.05, 0.04, 0.04, 0.04, 0.05,
                0.04, 0.04, 0.04, 0.04, 0.05, 0.04, 0.04, 0.03]
tectomicrobia = [0.04, 0.03, 0.04, 0.04, 0.03, 0.04, 0.04, 0.03, 0.04, 0.03,
                 0.04, 0.03, 0.05, 0.04, 0.03, 0.03, 0.05, 0.03, 0.04, 0.04,
                 0.04, 0.04, 0.03, 0.04, 0.04, 0.04, 0.0, 0.04, 0.04, 0.04,
                 0.03, 0.04, 0.03, 0.04, 0.04, 0.03, 0.04, 0.04, 0.04, 0.04,
                 0.03, 0.03, 0.04, 0.03, 0.04, 0.03, 0.03, 0.03, 0.03, 0.04,
                 0.03, 0.03, 0.03, 0.04, 0.03, 0.03, 0.04, 0.03, 0.04, 0.03,
                 0.03, 0.04, 0.04, 0.04, 0.04, 0.05, 0.04, 0.04, 0.04, 0.04,
                 0.04, 0.04, 0.04, 0.04, 0.04, 0.04, 0.04, 0.03]
desulfobacterota_g = [0.03, 0.03, 0.04, 0.03, 0.02, 0.03, 0.03, 0.03, 0.04, 0.02,
                      0.04, 0.03, 0.04, 0.03, 0.03, 0.03, 0.04, 0.03, 0.03, 0.04,
                      0.03, 0.04, 0.03, 0.03, 0.03, 0.04, 0.0, 0.03, 0.04, 0.03,
                      0.02, 0.03, 0.03, 0.03, 0.03, 0.02, 0.03, 0.04, 0.03, 0.04,
                      0.03, 0.02, 0.03, 0.03, 0.04, 0.03, 0.02, 0.03, 0.03, 0.03,
                      0.02, 0.03, 0.03, 0.03, 0.02, 0.03, 0.03, 0.03, 0.04, 0.02,
                      0.03, 0.03, 0.03, 0.04, 0.03, 0.04, 0.03, 0.03, 0.03, 0.04,
                      0.03, 0.03, 0.03, 0.03, 0.04, 0.03, 0.03, 0.02]
campylobacterota = [0.03, 0.02, 0.03, 0.03, 0.02, 0.03, 0.03, 0.02, 0.03, 0.02,
                    0.03, 0.02, 0.04, 0.03, 0.02, 0.02, 0.04, 0.02, 0.03, 0.03,
                    0.03, 0.03, 0.02, 0.03, 0.03, 0.03, 0.0, 0.03, 0.03, 0.03,
                    0.02, 0.03, 0.02, 0.03, 0.03, 0.02, 0.03, 0.03, 0.03, 0.03,
                    0.02, 0.02, 0.03, 0.02, 0.03, 0.02, 0.02, 0.02, 0.02, 0.03,
                    0.02, 0.02, 0.02, 0.03, 0.02, 0.02, 0.03, 0.02, 0.03, 0.02,
                    0.02, 0.03, 0.03, 0.03, 0.03, 0.04, 0.03, 0.03, 0.03, 0.03,
                    0.03, 0.03, 0.03, 0.03, 0.03, 0.03, 0.03, 0.02]

abundance = [
    firmicutes_d, proteobacteria, actinobacteriota, acidobacteriota,
    bacteria_unclassified, bacteroidota, chloroflexota, gemmatimonadota,
    myxococcota, planctomycetota, thermoproteota, desulfobacterota_b,
    verrucomicrobiota, firmicutes_a, cyanobacteria, thermoplasmatota,
    methylomirabilota, bdellovibrionota_e, nitrospirota_a, firmicutes_e,
    archaea_unclassified, patescibacteria, firmicutes_c, thermotogota,
    armatimonadota, elusimicrobiota, desulfobacterota_i, halobacteriota,
    dependentiae, desulfobacterota_d, spirochaetota, chlamydiota,
    fusobacteriota, eisenbacteria, omnitrophota, tectomicrobia,
    desulfobacterota_g, campylobacterota,
]

# ColorBrewer "Accent", cycled over the phyla
palette = ["#7fc97f", "#beaed4", "#fdc086", "#ffff99",
           "#386cb0", "#f0027f", "#bf5b17", "#666666"]

# ---------------------------------------------------------------- page geometry (px)
W, H = 2157, 1471
ML, MR, MT, MB = 151, 499, 38, 271
PW, PH = W - ML - MR, H - MT - MB


def px(x):
    return (x - ML) / PW


def py(y):
    return (H - MB - y) / PH


AXIS_GREY = "#9b9b9b"
SANS = "DejaVu Sans"
SERIF = "Liberation Serif"

fig = go.Figure()

# first phylum sits on top of each stack, so add traces from last to first
for i in range(len(taxa) - 1, -1, -1):
    fig.add_trace(go.Bar(
        x=sample_pos, y=abundance[i], name=taxa[i],
        marker=dict(color=palette[i % len(palette)], line=dict(width=0)),
        showlegend=False,
    ))

shapes = []
annotations = []

# legend drawn as large swatches with labels beside the plot
for i, name in enumerate(taxa):
    top = 14.4 + 38.2 * i
    shapes.append(dict(type="rect", xref="paper", yref="paper",
                       x0=px(1687), x1=px(1722), y0=py(top + 32.5), y1=py(top),
                       fillcolor=palette[i % len(palette)], line=dict(width=0), layer="above"))
    annotations.append(dict(x=px(1736), y=py(top + 16.2), xref="paper", yref="paper",
                            text=name, showarrow=False, xanchor="left", yanchor="middle",
                            font=dict(family=SANS, size=20, color="#262626")))

# axis titles
annotations.append(dict(x=px(906), y=py(1308), xref="paper", yref="paper", text="Sample",
                        showarrow=False, xanchor="center", yanchor="middle",
                        font=dict(family=SANS, size=22, color=AXIS_GREY)))
annotations.append(dict(x=px(85), y=py(618), xref="paper", yref="paper",
                        text="Relative Frequency", textangle=-90, showarrow=False,
                        xanchor="center", yanchor="middle",
                        font=dict(family=SANS, size=22, color=AXIS_GREY)))

# figure caption underneath
caption_lines = [
    "<b>Figure 6:</b> Bar plots of the most dominant phyla",
    "recovered from all samples, regardless of depth or",
    "time.",
]
for k, line in enumerate(caption_lines):
    annotations.append(dict(x=px(580), y=py(1351 + 57 * k), xref="paper", yref="paper",
                            text=line, showarrow=False, xanchor="left", yanchor="middle",
                            font=dict(family=SERIF, size=48, color="#000000")))

# tail of the preceding paragraph at the left margin
annotations.append(dict(x=px(0), y=py(1058), xref="paper", yref="paper", text="ng",
                        showarrow=False, xanchor="left", yanchor="middle",
                        font=dict(family=SERIF, size=48, color="#000000")))

# ordination panel beginning below the chart
shapes.append(dict(type="rect", xref="paper", yref="paper",
                   x0=px(48), x1=px(381), y0=py(1374), y1=py(1349),
                   fillcolor="#ececec", line=dict(color="#6f6f6f", width=1.5)))
annotations.append(dict(x=px(214), y=py(1361), xref="paper", yref="paper",
                        text="Resemblance: S17 Bray Curtis similarity (+d)", showarrow=False,
                        xanchor="center", yanchor="middle",
                        font=dict(family="Liberation Sans Narrow, Liberation Sans", size=17, color="#333333")))
shapes.append(dict(type="line", xref="paper", yref="paper",
                   x0=px(0), x1=px(381), y0=py(1380), y1=py(1380),
                   line=dict(color="#b5b5b5", width=3)))
shapes.append(dict(type="line", xref="paper", yref="paper",
                   x0=px(381), x1=px(381), y0=py(1380), y1=py(1475),
                   line=dict(color="#c8c8c8", width=1.5)))
shapes.append(dict(type="rect", xref="paper", yref="paper",
                   x0=px(387), x1=px(486), y0=py(1480), y1=py(1381),
                   fillcolor="rgba(0,0,0,0)", line=dict(color="#a0a0a0", width=1.5)))
annotations.append(dict(x=px(371), y=py(1398), xref="paper", yref="paper",
                        text="2D Stress: 0.11", showarrow=False, xanchor="right", yanchor="middle",
                        font=dict(family="Liberation Sans Narrow, Liberation Sans", size=15, color="#333333")))
annotations.append(dict(x=px(436), y=py(1400), xref="paper", yref="paper",
                        text="<i>Treat</i>", showarrow=False, xanchor="center", yanchor="middle",
                        font=dict(family="Liberation Sans", size=22, color="#3a4bb0")))
annotations.append(dict(x=px(392), y=py(1432), xref="paper", yref="paper",
                        text="<span style='color:#1f7a3c'>▲</span> Algae", showarrow=False,
                        xanchor="left", yanchor="middle",
                        font=dict(family="Liberation Sans", size=19, color="#222222")))
annotations.append(dict(x=px(392), y=py(1461), xref="paper", yref="paper",
                        text="<span style='color:#2236c0'>▼</span> Control", showarrow=False,
                        xanchor="left", yanchor="middle",
                        font=dict(family="Liberation Sans", size=19, color="#222222")))

fig.update_layout(
    width=W, height=H,
    margin=dict(l=ML, r=MR, t=MT, b=MB, pad=0),
    paper_bgcolor="white", plot_bgcolor="white",
    barmode="stack", barnorm="percent", bargap=0.145,
    font=dict(family=SANS, color=AXIS_GREY),
    shapes=shapes, annotations=annotations,
    xaxis=dict(
        range=[-0.5, len(sample_pos) - 0.5], tickmode="array",
        tickvals=sample_pos, ticktext=treatment, tickangle=-90,
        tickfont=dict(family=SANS, size=17, color=AXIS_GREY),
        ticks="outside", ticklen=8, tickwidth=1, tickcolor="#444444",
        showline=True, linecolor="#555555", linewidth=1,
        showgrid=False, zeroline=False,
    ),
    yaxis=dict(
        range=[0, 100], tickmode="array", tickvals=y_ticks, ticktext=y_tick_labels,
        tickfont=dict(family=SANS, size=18, color=AXIS_GREY),
        ticks="outside", ticklen=9, tickwidth=1, tickcolor="#8a8a8a",
        showline=False, showgrid=False, zeroline=False,
    ),
)

fig.write_html("out.html")
